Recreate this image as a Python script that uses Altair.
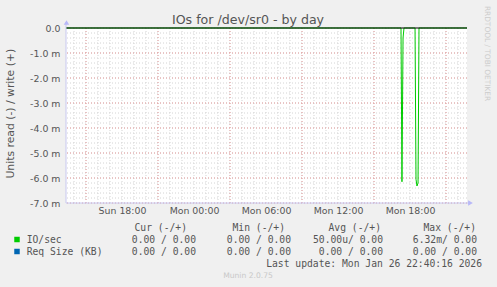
import altair as alt
import pandas as pd

# ---- data ----
hours = [13.3333, 41.25, 41.33, 41.42, 41.5, 42.42, 42.5, 42.58, 42.67, 42.75, 46.75]
read_m = [0, 0, -6.15, -0.4, 0, 0, -6.05, -6.32, -6.2, 0, 0]

x_ticks = [18, 24, 30, 36, 42]
x_labels = ["Sun 18:00", "Mon 00:00", "Mon 06:00", "Mon 12:00", "Mon 18:00"]
y_ticks = [-7, -6, -5, -4, -3, -2, -1, 0]
y_labels = ["-7.0 m", "-6.0 m", "-5.0 m", "-4.0 m", "-3.0 m", "-2.0 m", "-1.0 m", "0.0"]

minor_x = list(range(14, 47))
major_x = [15, 21, 27, 33, 39, 45]
minor_y = [round(-7 + 0.2 * i, 1) for i in range(36)]
major_y = [-7, -6, -5, -4, -3, -2, -1]

legend_names = ["IO/sec", "Req Size (KB)"]
legend_colors = ["#00CC00", "#0066B3"]
headers = ["Cur (-/+)", "Min (-/+)", "Avg (-/+)", "Max (-/+)"]
row_values = [
    ["0.00 / 0.00", "0.00 / 0.00", "50.00u/ 0.00", "6.32m/ 0.00"],
    ["0.00 / 0.00", "0.00 / 0.00", "0.00 / 0.00", "0.00 / 0.00"],
]

# ---- layout ----
L, T, W, H = 66, 28, 401, 175
TXT = "#555555"
SANS = "DejaVu Sans"
MONO = "DejaVu Sans Mono"

xs = alt.Scale(domain=[13.3333, 46.75], nice=False, zero=False)
ys = alt.Scale(domain=[-7, 0], nice=False, zero=False)
arr_x = "[" + ",".join(str(v) for v in x_ticks) + "]"
lab_x = "[" + ",".join("'" + s + "'" for s in x_labels) + "]"
arr_y = "[" + ",".join(str(v) for v in y_ticks) + "]"
lab_y = "[" + ",".join("'" + s + "'" for s in y_labels) + "]"
X_AXIS = alt.Axis(values=x_ticks, labelExpr=f"{lab_x}[indexof({arr_x}, datum.value)]",
                  title=None, labelPadding=3, labelBaseline="top")
Y_AXIS = alt.Axis(values=y_ticks, labelExpr=f"{lab_y}[indexof({arr_y}, datum.value)]",
                  title=None, labelPadding=6)

def X(f):
    return alt.X(f + ":Q", scale=xs, axis=X_AXIS)

def Y(f):
    return alt.Y(f + ":Q", scale=ys, axis=Y_AXIS)

df = pd.DataFrame({"h": hours, "v": read_m})

layers = []
layers.append(alt.Chart(pd.DataFrame({"h": minor_x})).mark_rule(
    color="#D4D4D4", strokeWidth=1, strokeDash=[1, 2]).encode(x=X("h")))
layers.append(alt.Chart(pd.DataFrame({"v": minor_y})).mark_rule(
    color="#D4D4D4", strokeWidth=1, strokeDash=[1, 2]).encode(y=Y("v")))
layers.append(alt.Chart(pd.DataFrame({"h": major_x})).mark_rule(
    color="#E8A0A0", strokeWidth=1, strokeDash=[1, 2]).encode(x=X("h")))
layers.append(alt.Chart(pd.DataFrame({"v": major_y})).mark_rule(
    color="#E8A0A0", strokeWidth=1, strokeDash=[1, 2]).encode(y=Y("v")))
layers.append(alt.Chart(df).mark_line(color="#00CC00", strokeWidth=1, interpolate="linear").encode(
    x=X("h"), y=Y("v")))
# zero line
layers.append(alt.Chart(pd.DataFrame({"v": [0]})).mark_rule(color="#000000", strokeWidth=1).encode(y=Y("v")))

def val(d):
    return alt.Chart(alt.Data(values=[{"a": 1}]))

# axis lines and arrows
layers.append(val(0).mark_rule(color="#C8C8F0", strokeWidth=1).encode(
    x=alt.value(0), y=alt.value(-6), y2=alt.value(H)))
layers.append(val(0).mark_rule(color="#C8C8F0", strokeWidth=1).encode(
    x=alt.value(0), x2=alt.value(W + 4), y=alt.value(H)))
layers.append(val(0).mark_point(shape="triangle-up", filled=True, color="#B8B8F8", size=30, opacity=1).encode(
    x=alt.value(0.5), y=alt.value(22.5 - T)))
layers.append(val(0).mark_point(shape="triangle-right", filled=True, color="#B8B8F8", size=30, opacity=1).encode(
    x=alt.value(470.5 - L), y=alt.value(H)))

def txt(s, x, y, size, align="left", color=TXT, font=MONO, angle=0, baseline="middle"):
    return val(0).mark_text(text=s, font=font, fontSize=size, align=align, color=color,
                            angle=angle, baseline=baseline).encode(
        x=alt.value(x - L), y=alt.value(y - T))

layers.append(txt("IOs for /dev/sr0 - by day", 248, 24, 12.6, align="center", font=SANS, baseline="alphabetic"))
layers.append(txt("Units read (-) / write (+)", 10.5, 113.7, 10.8, align="center", font=SANS, angle=270))
layers.append(txt("RRDTOOL / TOBI OETIKER", 487, 53.5, 7.4, align="center", font=SANS, angle=90, color="#CCCCCC"))

hdr_x = [187, 285, 381, 476]
val_x = [196, 291, 383, 477]
for hx, h in zip(hdr_x, headers):
    layers.append(txt(h, hx, 228, 9.7, align="right"))
row_y = [239.5, 251.5]
for name, colr, vals, ry in zip(legend_names, legend_colors, row_values, row_y):
    layers.append(val(0).mark_square(color=colr, size=30, opacity=1).encode(
        x=alt.value(17 - L), y=alt.value(ry - T)))
    layers.append(txt(name, 26.7, ry, 9.7))
    for vx, v in zip(val_x, vals):
        layers.append(txt(v, vx, ry, 9.7, align="right"))
layers.append(txt("Last update: Mon Jan 26 22:40:16 2026", 482, 264, 9.7, align="right"))
layers.append(txt("Munin 2.0.75", 248, 276, 7.6, align="center", font=SANS, color="#C8C8C8"))

chart = alt.layer(*layers).properties(
    width=W, height=H,
    padding={"left": L, "top": T, "right": 497 - L - W, "bottom": 287 - T - H},
    autosize=alt.AutoSizeParams(type="none"),
    background="#F0F0F0",
).configure_view(fill="white", strokeWidth=0).configure_axis(
    domain=False, ticks=False, grid=False, labelFont=SANS, labelFontSize=9.4, labelColor=TXT
)

chart.save("out.html", embed_options={"renderer": "svg", "actions": False})
